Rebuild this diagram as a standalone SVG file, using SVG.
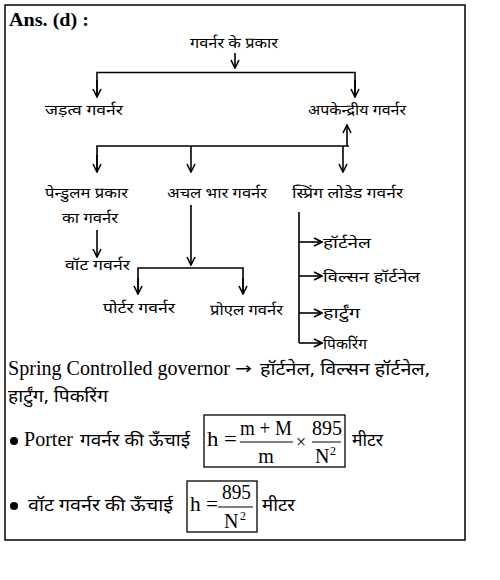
<svg xmlns="http://www.w3.org/2000/svg" width="500" height="580" viewBox="0 0 500 580">
<defs>
<marker id="ah" viewBox="0 0 10 10" refX="9" refY="5" markerWidth="10" markerHeight="10" markerUnits="userSpaceOnUse" orient="auto">
<path d="M1,1 L9,5 L1,9" fill="none" stroke="#000" stroke-width="1.6"/>
</marker>
</defs>
<style>
.hi{font-family:"Noto Sans Devanagari","Noto Sans",sans-serif;font-size:15px;fill:#000}
.hb{font-family:"Noto Sans Devanagari","Noto Sans",sans-serif;font-size:17px;fill:#000}
.tm{font-family:"Liberation Serif",serif;font-size:20px;fill:#000}
.ln{fill:none;stroke:#000;stroke-width:1.6}
.ar{fill:none;stroke:#000;stroke-width:1.6;marker-end:url(#ah)}
</style>
<rect x="0" y="0" width="500" height="580" fill="#fff"/>
<rect x="5" y="5" width="460" height="535" fill="none" stroke="#000" stroke-width="1.5"/>
<text class="tm" x="9" y="26" font-weight="bold" style="font-size:19px" textLength="80" lengthAdjust="spacingAndGlyphs">Ans. (d) :</text>

<g id="connectors">
<path class="ar" d="M235,53 V68"/>
<path class="ln" d="M97,97 V72.5 H355 V97"/>
<path class="ar" d="M97,80 V97"/>
<path class="ar" d="M355,80 V97"/>
<path class="ar" d="M347,146 V125"/>
<path class="ln" d="M97,172 V146 H349"/>
<path class="ar" d="M97,155 V172"/>
<path class="ar" d="M191,146 V172"/>
<path class="ar" d="M343,146 V172"/>
<path class="ar" d="M97,230 V257"/>
<path class="ar" d="M191,205 V265"/>
<path class="ln" d="M138,294 V268 H243 V294"/>
<path class="ar" d="M138,278 V294"/>
<path class="ar" d="M243,278 V294"/>
<path class="ln" d="M299,212 V343"/>
<path class="ar" d="M299,242 H322"/>
<path class="ar" d="M299,276 H322"/>
<path class="ar" d="M299,313 H322"/>
<path class="ar" d="M299,343 H322"/>
</g>

<g id="n-root"><text class="hi" x="190" y="48" textLength="88" lengthAdjust="spacingAndGlyphs">गवर्नर के प्रकार</text></g>
<g id="n-inertia"><text class="hi" x="45" y="115" textLength="78" lengthAdjust="spacingAndGlyphs">जड़त्व गवर्नर</text></g>
<g id="n-centrifugal"><text class="hi" x="308" y="115" textLength="98" lengthAdjust="spacingAndGlyphs">अपकेन्द्रीय गवर्नर</text></g>
<g id="n-pendulum"><text class="hi" x="45" y="198" textLength="83" lengthAdjust="spacingAndGlyphs">पेन्डुलम प्रकार</text><text class="hi" x="62" y="223" textLength="56" lengthAdjust="spacingAndGlyphs">का गवर्नर</text></g>
<g id="n-deadweight"><text class="hi" x="167" y="198" textLength="100" lengthAdjust="spacingAndGlyphs">अचल भार गवर्नर</text></g>
<g id="n-spring"><text class="hi" x="292" y="198" textLength="111" lengthAdjust="spacingAndGlyphs">स्प्रिंग लोडेड गवर्नर</text></g>
<g id="n-watt"><text class="hi" x="65" y="270" textLength="65" lengthAdjust="spacingAndGlyphs">वॉट गवर्नर</text></g>
<g id="n-porter"><text class="hi" x="103" y="313" textLength="72" lengthAdjust="spacingAndGlyphs">पोर्टर गवर्नर</text></g>
<g id="n-proell"><text class="hi" x="210" y="315" textLength="73" lengthAdjust="spacingAndGlyphs">प्रोएल गवर्नर</text></g>
<g id="n-hartnell"><text class="hi" x="323" y="248" textLength="48" lengthAdjust="spacingAndGlyphs">हॉर्टनेल</text></g>
<g id="n-wilson"><text class="hi" x="323" y="282" textLength="97" lengthAdjust="spacingAndGlyphs">विल्सन हॉर्टनेल</text></g>
<g id="n-hartung"><text class="hi" x="323" y="318" textLength="37" lengthAdjust="spacingAndGlyphs">हार्टुंग</text></g>
<g id="n-pickering"><text class="hi" x="323" y="349" textLength="44" lengthAdjust="spacingAndGlyphs">पिकरिंग</text></g>

<g id="notes">
<text class="tm" x="8" y="375" textLength="222" lengthAdjust="spacingAndGlyphs">Spring Controlled governor</text>
<text x="235" y="374" style="font-family:'DejaVu Sans',sans-serif;font-size:16px" textLength="17" lengthAdjust="spacingAndGlyphs">→</text>
<text class="hb" x="260" y="375" textLength="170" lengthAdjust="spacingAndGlyphs">हॉर्टनेल,  विल्सन हॉर्टनेल,</text>
<text class="hb" x="8" y="402" textLength="100" lengthAdjust="spacingAndGlyphs">हार्टुंग,  पिकरिंग</text>

<circle cx="14" cy="441" r="4" fill="#000"/>
<text class="tm" x="24" y="446" textLength="49" lengthAdjust="spacingAndGlyphs">Porter</text>
<text class="hb" x="80" y="446" textLength="110" lengthAdjust="spacingAndGlyphs">गवर्नर  की  ऊँचाई</text>
<rect x="204" y="415" width="141" height="52" fill="none" stroke="#000" stroke-width="1.3"/>
<text class="tm" x="207" y="446" textLength="30" lengthAdjust="spacingAndGlyphs">h =</text>
<text class="tm" x="240" y="435" textLength="52" lengthAdjust="spacingAndGlyphs">m + M</text>
<line x1="240" y1="442" x2="293" y2="442" stroke="#000" stroke-width="1"/>
<text class="tm" x="266" y="463" text-anchor="middle">m</text>
<text class="tm" x="301" y="448" text-anchor="middle" style="font-size:18px">×</text>
<text class="tm" x="312" y="435" textLength="30" lengthAdjust="spacingAndGlyphs">895</text>
<line x1="312" y1="442" x2="341" y2="442" stroke="#000" stroke-width="1"/>
<text class="tm" x="315" y="463">N</text>
<text class="tm" x="330" y="455" style="font-size:12px">2</text>
<text class="hb" x="352" y="446" textLength="31" lengthAdjust="spacingAndGlyphs">मीटर</text>

<circle cx="14" cy="506" r="4" fill="#000"/>
<text class="hb" x="28" y="511" textLength="145" lengthAdjust="spacingAndGlyphs">वॉट  गवर्नर  की  ऊँचाई</text>
<rect x="187" y="481" width="70" height="51" fill="none" stroke="#000" stroke-width="1.3"/>
<text class="tm" x="190" y="511" textLength="28" lengthAdjust="spacingAndGlyphs">h =</text>
<text class="tm" x="222" y="499" textLength="29" lengthAdjust="spacingAndGlyphs">895</text>
<line x1="218" y1="507" x2="253" y2="507" stroke="#000" stroke-width="1"/>
<text class="tm" x="224" y="528">N</text>
<text class="tm" x="240" y="520" style="font-size:12px">2</text>
<text class="hb" x="262" y="511" textLength="33" lengthAdjust="spacingAndGlyphs">मीटर</text>
</g>
</svg>
